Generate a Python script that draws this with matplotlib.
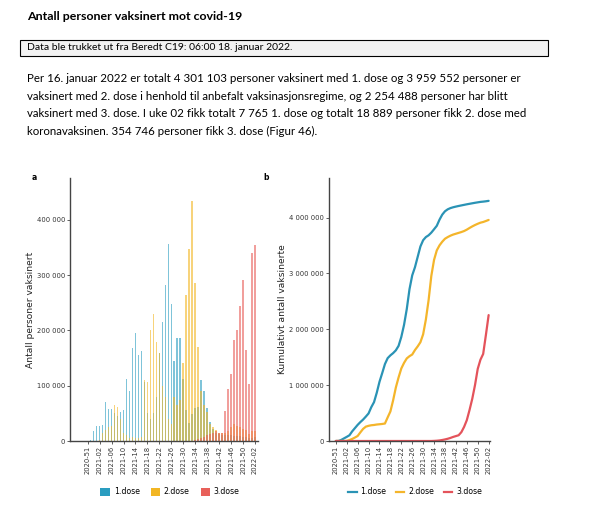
import numpy as np
import matplotlib
matplotlib.use("Agg")
import matplotlib.pyplot as plt
from matplotlib.patches import Patch, Rectangle
from matplotlib.lines import Line2D

# ukentlige tall (tusen), uke 2020-51 .. 2022-02
dose1 = [0, 1, 19, 27, 27, 29, 70, 58, 58, 50, 45, 53, 57, 112, 90, 168, 196, 156, 162, 106,
         50, 40, 50, 80, 160, 216, 283, 356, 248, 145, 186, 186, 112, 56, 32, 48, 60, 62, 110, 90,
         60, 35, 22, 15, 12, 11, 10, 10, 10, 9, 9, 9, 8, 8, 5, 6, 7.765]
dose2 = [0, 0, 0, 0, 2, 15, 20, 25, 28, 65, 62, 40, 15, 10, 5, 8, 5, 5, 8, 110,
         106, 200, 230, 180, 160, 100, 80, 40, 30, 80, 65, 75, 142, 265, 347, 435, 286, 170, 90, 65,
         53, 30, 25, 20, 15, 15, 15, 18, 25, 30, 28, 25, 22, 20, 12, 18, 18.889]
dose3 = [0, 0, 0, 0, 0, 0, 0, 0, 0, 0, 0, 0, 0, 0, 0, 0, 0, 0, 0, 0,
         0, 0, 0, 0, 0, 0, 0, 0, 0, 0, 0, 0, 0, 0, 0, 0, 2, 3, 5, 8,
         10, 12, 15, 18, 15, 15, 55, 94, 121, 182, 201, 244, 291, 165, 103, 341, 354.746]

week_labels = ["2020-51", "2021-02", "2021-06", "2021-10", "2021-14", "2021-18", "2021-22",
               "2021-26", "2021-30", "2021-34", "2021-38", "2021-42", "2021-46", "2021-50", "2022-02"]
series_names = ["1.dose", "2.dose", "3.dose"]

bar_ticks = [0, 100000, 200000, 300000, 400000]
cum_ticks = [0, 1000000, 2000000, 3000000, 4000000]

title = "Antall personer vaksinert mot covid-19"
boxtext = "Data ble trukket ut fra Beredt C19: 06:00 18. januar 2022."
para = [
    "Per 16. januar 2022 er totalt 4 301 103 personer vaksinert med 1. dose og 3 959 552 personer er",
    "vaksinert med 2. dose i henhold til anbefalt vaksinasjonsregime, og 2 254 488 personer har blitt",
    "vaksinert med 3. dose. I uke 02 fikk totalt 7 765 1. dose og totalt 18 889 personer fikk 2. dose med",
    "koronavaksinen. 354 746 personer fikk 3. dose (Figur 46).",
]

bar_cols = ["#2a9dc0", "#f2b624", "#e8605a"]
line_cols = ["#2a93b5", "#f4b52b", "#e4535b"]
axcol = "#444444"


def fmt(v):
    return f"{v:,.0f}".replace(",", " ")


def style_axis(ax):
    for s in ["top", "right"]:
        ax.spines[s].set_visible(False)
    for s in ["left", "bottom"]:
        ax.spines[s].set_color(axcol)
        ax.spines[s].set_linewidth(1.0)
    ax.tick_params(axis="both", colors=axcol, labelcolor="#333333", length=2, width=0.6,
                   labelsize=4.9, pad=1.5)


fig = plt.figure(figsize=(6, 5.14), dpi=100)
doc_font = "Lato"

fig.text(27 / 600, 1 - 17 / 514, title, fontsize=8.9, fontweight="bold", family=doc_font,
         va="center", ha="left")
fig.patches.append(Rectangle((20 / 600, 1 - 56 / 514), 528 / 600, 16 / 514, transform=fig.transFigure,
                             facecolor="#f2f2f2", edgecolor="black", linewidth=0.8))
fig.text(27 / 600, 1 - 48 / 514, boxtext, fontsize=7.5, family=doc_font, va="center", ha="left")
for i, line in enumerate(para):
    fig.text(27 / 600, 1 - (79 + 17.4 * i) / 514, line, fontsize=8.3, family=doc_font,
             va="center", ha="left")

x = np.arange(len(dose1))
tick_pos = np.arange(0, len(dose1), 4)

# a: ukentlige doser
ax1 = fig.add_axes([70 / 600, 1 - 441 / 514, 188 / 600, 263 / 514])
for vals, col in zip([dose1, dose2, dose3], bar_cols):
    ax1.bar(x, np.array(vals) * 1000, width=0.55, color=col, alpha=0.6, linewidth=0)
ax1.set_xlim(-5.9, 57)
ax1.set_ylim(0, 476000)
ax1.set_yticks(bar_ticks)
ax1.set_yticklabels([fmt(v) for v in bar_ticks])
ax1.set_xticks(tick_pos)
ax1.set_xticklabels(week_labels, rotation=90)
ax1.set_ylabel("Antall personer vaksinert", fontsize=6.6, color="#222222", labelpad=1.5)
style_axis(ax1)
fig.text(32 / 600, 1 - 178 / 514, "a", fontsize=5.5, fontweight="bold", va="center")

handles = [Patch(facecolor=c, edgecolor="none") for c in bar_cols]
fig.legend(handles, series_names, loc="center", bbox_to_anchor=(170 / 600, 1 - 492 / 514), ncol=3,
           frameon=False, fontsize=5.6, handlelength=1.2, handleheight=1.2, columnspacing=1.4,
           handletextpad=0.5)

# b: kumulativt
ax2 = fig.add_axes([329 / 600, 1 - 441 / 514, 161 / 600, 263 / 514])
for vals, col in zip([dose1, dose2, dose3], line_cols):
    ax2.plot(x, np.cumsum(vals) * 1000, color=col, linewidth=1.6, solid_capstyle="round",
             solid_joinstyle="round")
ax2.set_xlim(-2.5, 56.5)
ax2.set_ylim(0, 4710000)
ax2.set_yticks(cum_ticks)
ax2.set_yticklabels([fmt(v) for v in cum_ticks])
ax2.set_xticks(tick_pos)
ax2.set_xticklabels(week_labels, rotation=90)
ax2.set_ylabel("Kumulativt antall vaksinerte", fontsize=6.6, color="#222222", labelpad=1.5)
style_axis(ax2)
fig.text(263 / 600, 1 - 178 / 514, "b", fontsize=5.5, fontweight="bold", va="center")

lhandles = [Line2D([0], [0], color=c, linewidth=1.6) for c in line_cols]
fig.legend(lhandles, series_names, loc="center", bbox_to_anchor=(415 / 600, 1 - 492 / 514), ncol=3,
           frameon=False, fontsize=5.6, handlelength=1.1, columnspacing=1.2, handletextpad=0.5)

fig.savefig("out.png", dpi=100)
